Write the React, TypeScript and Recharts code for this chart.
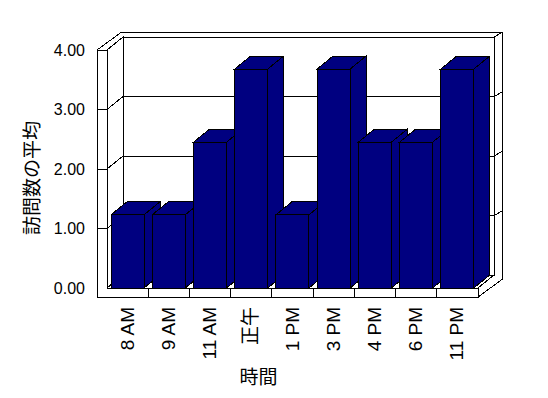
import React from "react";
import {Bar, BarChart, Customized, Label, XAxis, YAxis} from "recharts";

// 時間帯ごとの訪問数の平均
const hours = ["8 AM", "9 AM", "11 AM", "正午", "1 PM", "3 PM", "4 PM", "6 PM", "11 PM"];
const avgVisits = [1.23, 1.23, 2.45, 3.68, 1.23, 3.68, 2.45, 2.45, 3.68];
const yTicks = [0, 1, 2, 3, 4];

const data = hours.map((hour, i) => ({hour, value: avgVisits[i]}));

const W = 548;
const H = 398;
const LEFT = 107;
const TOP = 50;
const RIGHT_GAP = 70;
const BOTTOM_GAP = 110;
const PLOT_R = W - RIGHT_GAP;
const PLOT_B = H - BOTTOM_GAP;
const DX = 16; // depth of walls / bars
const DY = -13;
const OX = 24; // outer depth (wall thickness)
const OY = -17.5;
const WALL = 10;
const FLOOR = 9;
const NAVY = "#000080";
const LATIN = "'Liberation Sans', Arial, sans-serif";
const CJK = "'Noto Sans CJK JP', 'Liberation Sans', sans-serif";

const pts = (arr: number[][]) => arr.map((p) => p.join(",")).join(" ");

const Frame = () => {
   const L = LEFT, R = PLOT_R, T = TOP, B = PLOT_B;
   const yOf = (v: number) => B - (v / yTicks[yTicks.length - 1]) * (B - T);
   const band = (R - L) / hours.length;
   return (
      <g stroke="#000" strokeWidth={1} fill="#fff" shapeRendering="crispEdges">
         <polygon points={pts([[L - WALL, T], [L - WALL + OX, T + OY], [R + OX, T + OY], [R + OX, B + FLOOR + OY], [R, B + FLOOR], [L - WALL, B + FLOOR]])}/>
         <rect x={L + DX} y={T + DY} width={R - L} height={B - T}/>
         <polygon points={pts([[L, T], [L + DX, T + DY], [L + DX, B + DY], [L, B]])}/>
         <polygon points={pts([[L, B], [R, B], [R + DX, B + DY], [L + DX, B + DY]])}/>
         <polygon points={pts([[L - WALL, T], [L, T], [L, B], [R, B], [R, B + FLOOR], [L - WALL, B + FLOOR]])}/>
         <line x1={R + DX} y1={T + DY} x2={R + OX} y2={T + OY}/>
         {yTicks.slice(1, -1).map((v) => {
            const y = yOf(v);
            return (
               <g key={v}>
                  <line x1={L - WALL} y1={y} x2={L} y2={y}/>
                  <line x1={L} y1={y} x2={L + DX} y2={y + DY}/>
                  <line x1={L + DX} y1={y + DY} x2={R + DX} y2={y + DY}/>
                  <line x1={R + DX} y1={y + DY} x2={R + OX} y2={y + OY}/>
               </g>
            );
         })}
         {hours.map((h, i) => (
            <line key={h} x1={L + (i + 1) * band} y1={B} x2={L + (i + 1) * band} y2={B + FLOOR}/>
         ))}
      </g>
   );
};

const Bar3D = (props: any) => {
   const {x, y, width: w, height: h} = props;
   return (
      <g stroke="#000" strokeWidth={1} fill={NAVY} shapeRendering="crispEdges">
         <polygon points={pts([[x + w, y], [x + w + DX, y + DY], [x + w + DX, y + h + DY], [x + w, y + h]])}/>
         <polygon points={pts([[x, y], [x + DX, y + DY], [x + w + DX, y + DY], [x + w, y]])}/>
         <rect x={x} y={y} width={w} height={h}/>
      </g>
   );
};

const HourTick = (props: any) => {
   const {x, y, payload} = props;
   return (
      <text
         transform={`translate(${x},${y}) rotate(-90)`}
         textAnchor="end"
         dy="0.32em"
         fontSize={19}
         fontFamily={payload.value === "正午" ? CJK : LATIN}
         fill="#000"
      >
         {payload.value}
      </text>
   );
};

const App: React.FC = () => {
   return (
      <div style={{position: "fixed", left: 0, top: 0, background: "#fff"}}>
         <BarChart
            width={W}
            height={H}
            data={data}
            margin={{top: TOP, right: RIGHT_GAP, left: 0, bottom: 0}}
         >
            <Customized component={Frame}/>
            <XAxis
               dataKey="hour"
               height={BOTTOM_GAP}
               interval={0}
               axisLine={false}
               tickLine={false}
               tickSize={0}
               tickMargin={19}
               tick={HourTick}
            >
               <Label
                  content={({viewBox}: any) => (
                     <text
                        x={viewBox.x + viewBox.width / 2 - 34}
                        y={viewBox.y + 96}
                        textAnchor="middle"
                        fontSize={19}
                        fontFamily={CJK}
                        fill="#000"
                     >
                        時間
                     </text>
                  )}
               />
            </XAxis>
            <YAxis
               width={LEFT}
               domain={[0, 4]}
               ticks={yTicks}
               interval={0}
               axisLine={false}
               tickLine={false}
               tickSize={20}
               tickMargin={2}
               tickFormatter={(v: number) => v.toFixed(2)}
               tick={{fill: "#000", fontSize: 16, fontFamily: LATIN}}
            >
               <Label
                  content={({viewBox}: any) => {
                     const cx = 32;
                     const cy = viewBox.y + viewBox.height / 2 + 9;
                     return (
                        <text
                           transform={`translate(${cx},${cy}) rotate(-90)`}
                           textAnchor="middle"
                           dy="0.35em"
                           fontSize={19}
                           fontFamily={CJK}
                           fill="#000"
                        >
                           訪問数の平均
                        </text>
                     );
                  }}
               />
            </YAxis>
            <Bar dataKey="value" barSize={33} shape={Bar3D} isAnimationActive={false}/>
         </BarChart>
      </div>
   );
};

export default App;
